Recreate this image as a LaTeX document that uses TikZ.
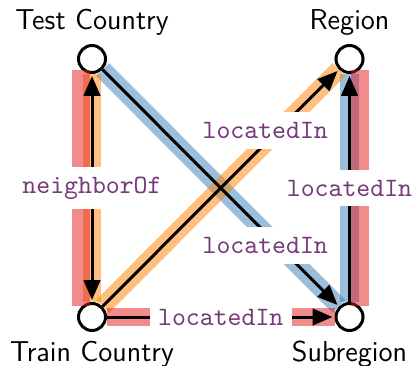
\documentclass[tikz,border=0pt]{standalone}
\usepackage{fontspec}
\usetikzlibrary{arrows.meta}
\definecolor{bred}{HTML}{E41A1C}
\definecolor{bora}{HTML}{FF7F00}
\definecolor{bblu}{HTML}{377EB8}
\definecolor{lblc}{RGB}{118,56,122}
\tikzset{
  vtx/.style={circle, draw, line width=1.2pt, fill=white, minimum size=10.8pt, inner sep=0pt},
  nlab/.style={font=\fontsize{11.5}{14}\selectfont\sffamily},
  band/.style={line width=7.3pt, draw opacity=0.5},
  tip/.tip={Triangle[length=8pt,width=6.6pt]},
  arr/.style={line width=1.2pt, -tip, shorten >=0.8pt},
  lbl/.style={fill=white, text=lblc, font=\fontsize{10.6}{13}\selectfont\ttfamily, inner xsep=3.4pt, inner ysep=4pt}
}
\begin{document}
\begin{tikzpicture}[x=0.4pt,y=-0.4pt]
\useasboundingbox (0,0) rectangle (413,366);
% vertices
\node[vtx, label={[nlab]above:Test Country}] (tc) at (92,59) {};
\node[vtx, label={[nlab]above:Region}] (rg) at (349.5,59) {};
\node[vtx, label={[nlab]below:Train Country}] (trc) at (92,317) {};
\node[vtx, label={[nlab]below:Subregion}] (sr) at (349.5,317) {};
% highlight bands: blue path
\draw[band, draw=bblu] (tc) -- (sr);
\draw[band, draw=bblu] (sr) -- (rg);
% orange path
\draw[band, draw=bora] (tc) -- (trc);
\draw[band, draw=bora] (trc) -- (rg);
% red path
\draw[band, draw=bred] ([shift={(-11,11)}]tc.center) -- ([shift={(-11,-11)}]trc.center);
\draw[band, draw=bred] (trc) -- (sr);
\draw[band, draw=bred] ([shift={(10.5,-11)}]sr.center) -- ([shift={(10.5,11)}]rg.center);
% edges
\draw[arr, tip-tip, shorten <=0.8pt] (tc) -- (trc);
\draw[arr] (trc) -- (rg);
\draw[arr] (tc) -- (sr);
\draw[arr] (sr) -- (rg);
\draw[arr] (trc) -- (sr);
% edge labels
\path (tc) -- (trc) node[lbl, midway] (l1) {neighborOf};
\path (trc) -- (sr) node[lbl, midway] (l2) {locatedIn};
\path (sr) -- (rg) node[lbl, midway] (l3) {locatedIn};
\path (trc.center) -- (rg.center) node[lbl, pos=0.7, shift={(-7,-6)}] (l4) {locatedIn};
\path (tc.center) -- (sr.center) node[lbl, pos=0.7, shift={(-7,6)}] (l5) {locatedIn};
\end{tikzpicture}
\end{document}
